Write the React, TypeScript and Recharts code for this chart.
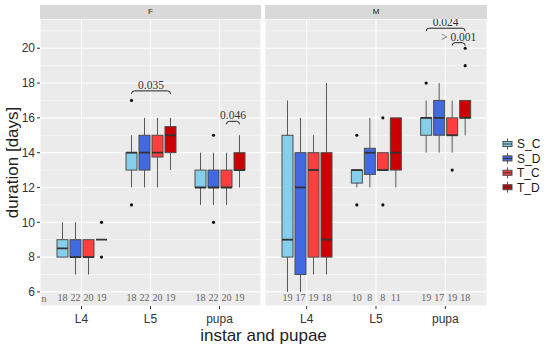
import { ComposedChart, Bar, XAxis, YAxis, CartesianGrid } from 'recharts'

const SERIES = ['S_C', 'S_D', 'T_C', 'T_D']
const SERIES_COLORS = ['#87CEEB', '#4169E1', '#FF3F3F', '#CD0000']
const CATEGORIES = ['L4', 'L5', 'pupa']
const Y_TICKS = [6, 8, 10, 12, 14, 16, 18, 20]
const Y_MINOR = [7, 9, 11, 13, 15, 17, 19, 21]
const Y_DOMAIN = [5.19, 21.68]
const N_ROW_Y = 5.67

// box stats per category (L4, L5, pupa): [min, q1, median, q3, max]
const F_S_C = [[8, 8, 8.5, 9, 10], [12, 13, 14, 14, 15], [11, 12, 12, 13, 14]]
const F_S_D = [[7, 8, 8, 9, 10], [12, 13, 14, 15, 16], [11, 12, 12, 13, 14]]
const F_T_C = [[7, 8, 8, 9, 9], [12, 13.75, 14, 15, 16], [11, 12, 12, 13, 14]]
const F_T_D = [[9, 9, 9, 9, 9], [13, 14, 15, 15.5, 16], [12, 13, 13, 14, 15]]

const M_S_C = [[6, 8, 9, 15, 17], [12, 12.25, 13, 13, 13], [14, 15, 16, 16, 17]]
const M_S_D = [[6, 7, 12, 14, 16], [12, 12.75, 14, 14.25, 16], [14, 15, 16, 17, 18]]
const M_T_C = [[7, 8, 13, 14, 15], [13, 13, 13, 14, 14], [14, 15, 15, 16, 17]]
const M_T_D = [[7, 8, 9, 14, 18], [12, 13, 14, 16, 16], [15, 16, 16, 17, 17]]

// outliers per category
const F_OUT_S_C = [[], [17, 11], []]
const F_OUT_S_D = [[], [], [15, 10]]
const F_OUT_T_C = [[], [], []]
const F_OUT_T_D = [[10, 8], [], []]

const M_OUT_S_C = [[], [15, 11], [18]]
const M_OUT_S_D = [[], [], []]
const M_OUT_T_C = [[], [16, 11], [13]]
const M_OUT_T_D = [[], [], [20, 19]]

// sample sizes per category, in series order
const F_N = [[18, 22, 20, 19], [18, 22, 20, 19], [18, 22, 20, 19]]
const M_N = [[19, 17, 19, 18], [10, 8, 8, 11], [19, 17, 19, 18]]

const COMPARISONS = [
  { facet: 'F', category: 'L5', from: 'S_C', to: 'T_D', y: 17.55, label: '0.035' },
  { facet: 'F', category: 'pupa', from: 'T_C', to: 'T_D', y: 15.8, label: '0.046' },
  { facet: 'M', category: 'pupa', from: 'S_C', to: 'T_D', y: 21.15, label: '0.024' },
  { facet: 'M', category: 'pupa', from: 'T_C', to: 'T_D', y: 20.32, label: '> 0.001' },
]

const BAR_SIZE = 11
const BAR_GAP = 2
const SANS = '"Liberation Sans", Arial, sans-serif'
const SERIF = '"Liberation Serif", "Times New Roman", serif'

function buildRows(stats: number[][][], outliers: number[][][], counts: number[][]) {
  return CATEGORIES.map((cat, ci) => {
    const row: any = { cat }
    SERIES.forEach((s, si) => {
      const [min, q1, med, q3, max] = stats[si][ci]
      const out = outliers[si][ci]
      const all = [min, max, ...out]
      row[s] = { min, q1, med, q3, max, out, n: counts[ci][si], lo: Math.min(...all), hi: Math.max(...all) }
    })
    return row
  })
}

const F_ROWS = buildRows([F_S_C, F_S_D, F_T_C, F_T_D], [F_OUT_S_C, F_OUT_S_D, F_OUT_T_C, F_OUT_T_D], F_N)
const M_ROWS = buildRows([M_S_C, M_S_D, M_T_C, M_T_D], [M_OUT_S_C, M_OUT_S_D, M_OUT_T_C, M_OUT_T_D], M_N)

function BoxShape(props: any) {
  const { x, y, width, height, payload, seriesIndex, facet } = props
  const s = SERIES[seriesIndex]
  const b = payload[s]
  const top = Math.min(y, y + height)
  const bottom = Math.max(y, y + height)
  const py = (v: number) => bottom - ((v - b.lo) / (b.hi - b.lo)) * (bottom - top)
  const cx = x + width / 2
  const brackets = COMPARISONS.filter((c) => c.facet === facet && c.category === payload.cat && c.to === s)

  return (
    <g>
      <line x1={cx} x2={cx} y1={py(b.max)} y2={py(b.q3)} stroke="#595959" strokeWidth={1} />
      <line x1={cx} x2={cx} y1={py(b.q1)} y2={py(b.min)} stroke="#595959" strokeWidth={1} />
      <rect
        x={x}
        y={py(b.q3)}
        width={width}
        height={py(b.q1) - py(b.q3)}
        fill={SERIES_COLORS[seriesIndex]}
        stroke="#4D4D4D"
        strokeWidth={1}
      />
      <line x1={x} x2={x + width} y1={py(b.med)} y2={py(b.med)} stroke="#333" strokeWidth={1.8} />
      {b.out.map((v: number, i: number) => (
        <circle key={i} cx={cx} cy={py(v)} r={1.6} fill="#111" />
      ))}
      <text x={cx} y={py(N_ROW_Y) + 3.5} textAnchor="middle" fontFamily={SERIF} fontSize={10} fill="#666">
        {b.n}
      </text>
      {brackets.map((c, i) => {
        const x1 = cx - (seriesIndex - SERIES.indexOf(c.from)) * (width + BAR_GAP)
        const x2 = cx
        const yb = py(c.y)
        return (
          <g key={i}>
            <path
              d={`M${x1},${yb + 3} Q${x1},${yb} ${x1 + 3},${yb} L${x2 - 3},${yb} Q${x2},${yb} ${x2},${yb + 3}`}
              fill="none"
              stroke="#222"
              strokeWidth={1}
            />
            <text x={(x1 + x2) / 2} y={yb - 2} textAnchor="middle" fontFamily={SERIF} fontSize={11.5} fill="#333">
              {c.label}
            </text>
          </g>
        )
      })}
    </g>
  )
}

function Facet({ rows, facet, width, showY }: { rows: any[]; facet: string; width: number; showY: boolean }) {
  return (
    <ComposedChart
      width={width}
      height={348}
      data={rows}
      margin={{ top: 19, right: 0, bottom: 12, left: 0 }}
      barSize={BAR_SIZE}
      barGap={BAR_GAP}
    >
      <CartesianGrid fill="#EBEBEB" stroke="#FFFFFF" strokeWidth={1.1} />
      <CartesianGrid yAxisId="minor" vertical={false} stroke="#FFFFFF" strokeWidth={0.5} />
      <XAxis
        dataKey="cat"
        padding={{ left: 7, right: 7 }}
        interval={0}
        tickSize={3}
        tickMargin={5}
        axisLine={false}
        tickLine={{ stroke: '#333' }}
        tick={{ fontSize: 12, fill: '#333', fontFamily: SANS }}
      />
      <YAxis
        domain={Y_DOMAIN}
        ticks={Y_TICKS}
        allowDataOverflow
        hide={!showY}
        width={40}
        tickSize={3}
        tickMargin={2}
        axisLine={false}
        tickLine={{ stroke: '#333' }}
        tick={{ fontSize: 12, fill: '#333', fontFamily: SANS }}
      />
      <YAxis yAxisId="minor" domain={Y_DOMAIN} ticks={Y_MINOR} allowDataOverflow hide />
      {SERIES.map((s, si) => (
        <Bar
          key={s}
          dataKey={(r: any) => [r[s].lo, r[s].hi]}
          isAnimationActive={false}
          shape={(p: any) => <BoxShape {...p} seriesIndex={si} facet={facet} />}
        />
      ))}
    </ComposedChart>
  )
}

export default function App() {
  return (
    <div style={{ position: 'absolute', left: 0, top: 0, width: 550, height: 348, background: '#fff', fontFamily: SANS }}>
      <div style={{ position: 'absolute', left: 0, top: 0 }}>
        <Facet rows={F_ROWS} facet="F" width={261} showY />
      </div>
      <div style={{ position: 'absolute', left: 265, top: 0 }}>
        <Facet rows={M_ROWS} facet="M" width={222} showY={false} />
      </div>
      {[
        { label: 'F', left: 40, width: 221 },
        { label: 'M', left: 265, width: 222 },
      ].map((st) => (
        <div
          key={st.label}
          style={{
            position: 'absolute',
            left: st.left,
            top: 5,
            width: st.width,
            height: 14,
            background: '#D9D9D9',
            color: '#1A1A1A',
            fontSize: 8,
            lineHeight: '14px',
            textAlign: 'center',
          }}
        >
          {st.label}
        </div>
      ))}
      <svg width={550} height={348} style={{ position: 'absolute', left: 0, top: 0, pointerEvents: 'none' }}>
        <text x={44} y={301.5} textAnchor="middle" fontFamily={SERIF} fontSize={10} fill="#666">
          n
        </text>
        <text x={263.5} y={341} textAnchor="middle" fontFamily={SANS} fontSize={17} fill="#222">
          instar and pupae
        </text>
        <text
          x={18}
          y={162.5}
          transform="rotate(-90 18 162.5)"
          textAnchor="middle"
          fontFamily={SANS}
          fontSize={17}
          fill="#222"
        >
          duration [days]
        </text>
        {SERIES.map((s, i) => {
          const cy = 144 + i * 14.4
          return (
            <g key={s}>
              <line x1={507.5} x2={507.5} y1={cy - 5.5} y2={cy + 5.5} stroke="#595959" strokeWidth={1} />
              <rect x={503} y={cy - 2.5} width={9} height={5} fill={SERIES_COLORS[i]} stroke="#4D4D4D" strokeWidth={1} />
              <line x1={503} x2={512} y1={cy} y2={cy} stroke="#333" strokeWidth={1} />
              <text x={517} y={cy + 4.3} fontFamily={SANS} fontSize={12} fill="#1A1A1A">
                {s}
              </text>
            </g>
          )
        })}
      </svg>
    </div>
  )
}
